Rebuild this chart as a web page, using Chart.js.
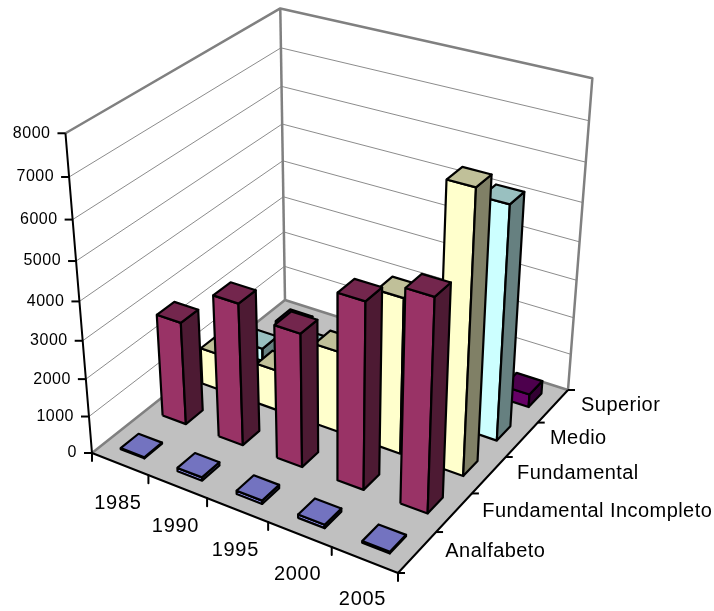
<!DOCTYPE html>
<html>
<head>
<meta charset="utf-8">
<style>
  html, body { margin: 0; padding: 0; background: #fff; }
  #wrap { width: 714px; height: 611px; }
</style>
<script src="https://cdn.jsdelivr.net/npm/chart.js@4"></script>
</head>
<body>
<div id="wrap"><canvas id="chart" width="714" height="611"></canvas></div>
<script>
const years = ['1985', '1990', '1995', '2000', '2005'];
const seriesNames = ['Analfabeto', 'Fundamental Incompleto', 'Fundamental', 'Medio', 'Superior'];
const valueTicks = [0, 1000, 2000, 3000, 4000, 5000, 6000, 7000, 8000];

const analfabeto = [30, 90, 90, 90, 40];
const fundamentalIncompleto = [2750, 3750, 3500, 4800, 5400];
const fundamental = [1000, 1100, 2170, 4070, 7150];
const medio = [350, 800, 1300, 2400, 6050];
const superior = [100, 40, 150, 200, 350];

const seriesValues = [analfabeto, fundamentalIncompleto, fundamental, medio, superior];
const seriesColors = [
    { front: '#9999ff', top: '#7373c0', side: '#4d4d80' },
    { front: '#993366', top: '#73264d', side: '#4d1a33' },
    { front: '#ffffcc', top: '#c0c099', side: '#808066' },
    { front: '#ccffff', top: '#99c0c0', side: '#668080' },
    { front: '#660066', top: '#4d004d', side: '#330033' },
];

const MAX_VALUE = 8000;
const BAR_U = 0.42;
const BAR_V = 0.42;

// corners of the plot cube as seen on the page
const floorA = [92, 453], floorB = [398, 573], floorC = [568, 390], floorD = [285, 300];
const topE = [65, 131], topF = [281, 7], topG = [592, 82];

function floorHomography(p0, p1, p2, p3) {
    const dx1 = p1[0] - p2[0], dx2 = p3[0] - p2[0], sx = p0[0] - p1[0] + p2[0] - p3[0];
    const dy1 = p1[1] - p2[1], dy2 = p3[1] - p2[1], sy = p0[1] - p1[1] + p2[1] - p3[1];
    const det = dx1 * dy2 - dx2 * dy1;
    const g = (sx * dy2 - dx2 * sy) / det;
    const h = (dx1 * sy - sx * dy1) / det;
    return {
        a: p1[0] - p0[0] + g * p1[0], b: p3[0] - p0[0] + h * p3[0], c: p0[0],
        d: p1[1] - p0[1] + g * p1[1], e: p3[1] - p0[1] + h * p3[1], f: p0[1],
        g, h,
    };
}

function solve3(m, r) {
    const a = m.map((row, i) => [...row, r[i]]);
    for (let i = 0; i < 3; i++) {
        let best = i;
        for (let k = i + 1; k < 3; k++) if (Math.abs(a[k][i]) > Math.abs(a[best][i])) best = k;
        [a[i], a[best]] = [a[best], a[i]];
        for (let k = 0; k < 3; k++) {
            if (k === i) continue;
            const f = a[k][i] / a[i][i];
            for (let j = i; j < 4; j++) a[k][j] -= f * a[i][j];
        }
    }
    return a.map((row, i) => row[3] / row[i]);
}

// fit the vertical column of the projection to the three top corners
function fitVertical(H) {
    const rows = [];
    const rhs = [];
    for (const [u, v, p] of [[0, 0, topE], [0, 1, topF], [1, 1, topG]]) {
        const den = H.g * u + H.h * v + 1;
        rows.push([1, 0, -p[0]]);
        rhs.push(p[0] * den - (H.a * u + H.b * v + H.c));
        rows.push([0, 1, -p[1]]);
        rhs.push(p[1] * den - (H.d * u + H.e * v + H.f));
    }
    const ata = [0, 1, 2].map(i => [0, 1, 2].map(j => rows.reduce((s, r) => s + r[i] * r[j], 0)));
    const atb = [0, 1, 2].map(i => rows.reduce((s, r, k) => s + r[i] * rhs[k], 0));
    return solve3(ata, atb);
}

const H = floorHomography(floorA, floorB, floorC, floorD);
const V = fitVertical(H);

function project(u, v, w) {
    const den = H.g * u + H.h * v + 1 + V[2] * w;
    return {
        x: (H.a * u + H.b * v + H.c + V[0] * w) / den,
        y: (H.d * u + H.e * v + H.f + V[1] * w) / den,
    };
}

const datasets = [];
function addShape(points, fillColor, lineColor, lineWidth) {
    datasets.push({
        data: points,
        showLine: true,
        fill: fillColor ? 'shape' : false,
        backgroundColor: fillColor || 'transparent',
        borderColor: lineColor,
        borderWidth: lineWidth,
        borderJoinStyle: 'round',
        pointRadius: 0,
        tension: 0,
        clip: false,
        order: -datasets.length,
    });
}

// walls and floor
addShape([project(0, 0, 0), project(0, 1, 0), project(0, 1, 1), project(0, 0, 1), project(0, 0, 0)], '#ffffff', '#ffffff', 0);
addShape([project(0, 1, 0), project(1, 1, 0), project(1, 1, 1), project(0, 1, 1), project(0, 1, 0)], '#ffffff', '#ffffff', 0);
addShape([project(0, 0, 0), project(1, 0, 0), project(1, 1, 0), project(0, 1, 0), project(0, 0, 0)], '#c0c0c0', '#c0c0c0', 0);

for (const t of valueTicks) {
    if (t === 0 || t === MAX_VALUE) continue;
    const w = t / MAX_VALUE;
    addShape([project(0, 0, w), project(0, 1, w), project(1, 1, w)], null, '#8c8c8c', 1);
}
addShape([project(0, 0, 1), project(0, 1, 1), project(1, 1, 1), project(1, 1, 0), project(0, 1, 0), project(0, 0, 0)], null, '#808080', 2.5);
addShape([project(0, 1, 0), project(0, 1, 1)], null, '#808080', 2.5);

// axes and tick marks
addShape([project(0, 0, 1), project(0, 0, 0), project(1, 0, 0), project(1, 1, 0)], null, '#000000', 2);
for (const t of valueTicks) {
    const p = project(0, 0, t / MAX_VALUE);
    addShape([p, { x: p.x - 8, y: p.y }], null, '#000000', 2);
}
for (let i = 0; i <= years.length; i++) {
    const p = project(i / years.length, 0, 0);
    addShape([p, { x: p.x, y: p.y + 8 }], null, '#000000', 2);
}
for (let i = 0; i <= seriesNames.length; i++) {
    const p = project(1, i / seriesNames.length, 0);
    addShape([p, { x: p.x + 7, y: p.y }], null, '#000000', 2);
}

// bars, back row first, left to right
for (let s = seriesNames.length - 1; s >= 0; s--) {
    for (let c = 0; c < years.length; c++) {
        const w = seriesValues[s][c] / MAX_VALUE;
        const u0 = (c + 0.5 - BAR_U / 2) / years.length, u1 = (c + 0.5 + BAR_U / 2) / years.length;
        const v0 = (s + 0.5 - BAR_V / 2) / seriesNames.length, v1 = (s + 0.5 + BAR_V / 2) / seriesNames.length;
        const col = seriesColors[s];
        addShape([project(u0, v0, 0), project(u1, v0, 0), project(u1, v0, w), project(u0, v0, w), project(u0, v0, 0)], col.front, '#000000', 2.2);
        addShape([project(u1, v0, 0), project(u1, v1, 0), project(u1, v1, w), project(u1, v0, w), project(u1, v0, 0)], col.side, '#000000', 2.2);
        addShape([project(u0, v0, w), project(u1, v0, w), project(u1, v1, w), project(u0, v1, w), project(u0, v0, w)], col.top, '#000000', 2.2);
    }
}

const axisLabels = {
    id: 'axisLabels',
    afterDraw(chart) {
        const { ctx, scales } = chart;
        const px = p => [scales.x.getPixelForValue(p.x), scales.y.getPixelForValue(p.y)];
        ctx.save();
        ctx.fillStyle = '#000000';
        ctx.textBaseline = 'middle';

        ctx.font = '16px "Liberation Sans"';
        ctx.letterSpacing = '0.5px';
        ctx.textAlign = 'right';
        for (const t of valueTicks) {
            const [x, y] = px(project(0, 0, t / MAX_VALUE));
            ctx.fillText(String(t), x - 15, y);
        }

        ctx.font = '20px "Liberation Sans"';
        ctx.letterSpacing = '0.7px';
        ctx.textAlign = 'center';
        years.forEach((label, i) => {
            const [x, y] = px(project((i + 0.5) / years.length, 0, 0));
            ctx.fillText(label, x - 2, y + 40);
        });

        ctx.letterSpacing = '0.45px';
        ctx.textAlign = 'left';
        seriesNames.forEach((label, i) => {
            const [x, y] = px(project(1, (i + 0.5) / seriesNames.length, 0));
            ctx.fillText(label, x + 28, y - 1);
        });
        ctx.restore();
    },
};

new Chart(document.getElementById('chart'), {
    type: 'scatter',
    data: { datasets },
    plugins: [axisLabels],
    options: {
        responsive: false,
        animation: false,
        events: [],
        layout: { padding: 0 },
        scales: {
            x: { type: 'linear', min: 0, max: 714, display: false },
            y: { type: 'linear', min: 0, max: 611, reverse: true, display: false },
        },
        plugins: { legend: { display: false }, tooltip: { enabled: false } },
    },
});
</script>
</body>
</html>
